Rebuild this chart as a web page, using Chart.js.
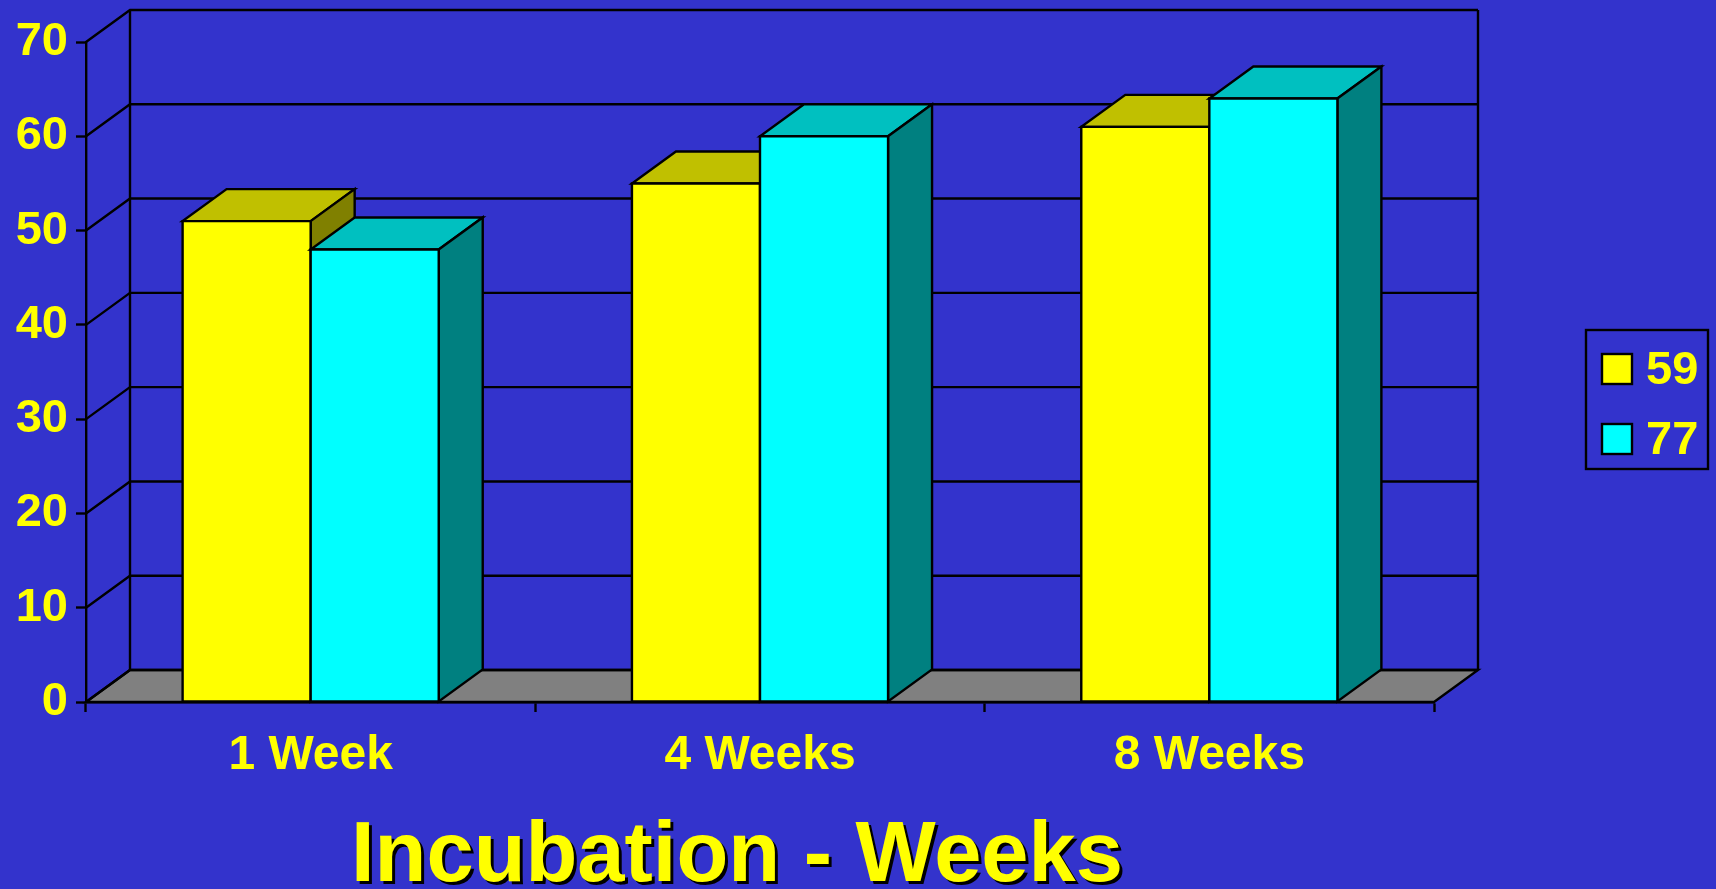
<!DOCTYPE html>
<html>
<head>
<meta charset="utf-8">
<title>Incubation - Weeks</title>
<script src="https://cdn.jsdelivr.net/npm/chart.js"></script>
<style>
    html, body { margin: 0; padding: 0; background: #3333cc; overflow: hidden; }
    #grafico { display: block; background: #3333cc; }
</style>
</head>
<body>
<canvas id="grafico" width="1716" height="889"></canvas>
<script>
// datos
var semanas = ['1 Week', '4 Weeks', '8 Weeks'];
var serie59 = [51, 55, 61];
var serie77 = [48, 60, 64];
var nombresSerie = ['59', '77'];
var ejeY = { min: 0, max: 70, paso: 10 };
var tituloEje = 'Incubation - Weeks';

// colores: frente, tapa, lado
var colores = [
    { frente: '#ffff00', tapa: '#c0c000', lado: '#808000' },
    { frente: '#00ffff', tapa: '#00c0c0', lado: '#008080' }
];
var AMARILLO = '#ffff00';
var PROF_X = 44, PROF_Y = 32;
var GROSOR = 2.4;

function poligono(ctx, pts, relleno) {
    ctx.beginPath();
    ctx.moveTo(pts[0][0], pts[0][1]);
    for (var i = 1; i < pts.length; i++) {
        ctx.lineTo(pts[i][0], pts[i][1]);
    }
    ctx.closePath();
    ctx.fillStyle = relleno;
    ctx.fill();
    ctx.stroke();
}

function dibujarBarra(ctx, p, c) {
    var izq = p.x - p.width / 2, der = p.x + p.width / 2;
    var arriba = p.y, abajo = p.base;
    // tapa
    poligono(ctx, [[izq, arriba], [der, arriba], [der + PROF_X, arriba - PROF_Y], [izq + PROF_X, arriba - PROF_Y]], c.tapa);
    // lado derecho
    poligono(ctx, [[der, arriba], [der + PROF_X, arriba - PROF_Y], [der + PROF_X, abajo - PROF_Y], [der, abajo]], c.lado);
    // frente
    poligono(ctx, [[izq, arriba], [der, arriba], [der, abajo], [izq, abajo]], c.frente);
}

var efecto3d = {
    id: 'efecto3d',
    beforeDraw: function (chart) {
        var ctx = chart.ctx, a = chart.chartArea, y = chart.scales.y;
        ctx.save();
        ctx.lineWidth = GROSOR;
        ctx.strokeStyle = '#000';
        // piso gris
        poligono(ctx, [[a.left, a.bottom], [a.right, a.bottom], [a.right + PROF_X, a.bottom - PROF_Y], [a.left + PROF_X, a.bottom - PROF_Y]], '#808080');
        // lineas de la pared del fondo y diagonales de la pared izquierda
        y.ticks.forEach(function (t) {
            var py = y.getPixelForValue(t.value);
            ctx.beginPath();
            ctx.moveTo(a.left, py);
            ctx.lineTo(a.left + PROF_X, py - PROF_Y);
            ctx.lineTo(a.right + PROF_X, py - PROF_Y);
            ctx.stroke();
        });
        ctx.beginPath();
        ctx.moveTo(a.left + PROF_X, a.top - PROF_Y);
        ctx.lineTo(a.left + PROF_X, a.bottom - PROF_Y);
        ctx.moveTo(a.right + PROF_X, a.top - PROF_Y);
        ctx.lineTo(a.right + PROF_X, a.bottom - PROF_Y);
        ctx.stroke();
        ctx.restore();
    },
    beforeDatasetsDraw: function (chart) {
        var ctx = chart.ctx;
        ctx.save();
        ctx.lineWidth = GROSOR;
        ctx.strokeStyle = '#000';
        // cada grupo de izquierda a derecha, amarillo y luego celeste
        for (var i = 0; i < chart.data.labels.length; i++) {
            chart.data.datasets.forEach(function (ds, d) {
                var bar = chart.getDatasetMeta(d).data[i];
                var p = bar.getProps(['x', 'y', 'base', 'width'], true);
                dibujarBarra(ctx, p, colores[d]);
            });
        }
        ctx.restore();
        return false;
    },
    afterDraw: function (chart) {
        var ctx = chart.ctx;
        ctx.save();
        // leyenda con marco
        ctx.lineWidth = GROSOR;
        ctx.strokeStyle = '#000';
        ctx.strokeRect(1586, 330, 122, 139);
        ctx.font = 'bold 47px "Liberation Sans", Arial, sans-serif';
        ctx.textBaseline = 'middle';
        ctx.textAlign = 'left';
        chart.data.datasets.forEach(function (ds, d) {
            var yy = 354 + d * 70;
            ctx.fillStyle = ds.backgroundColor;
            ctx.fillRect(1602, yy, 30, 30);
            ctx.strokeRect(1602, yy, 30, 30);
            ctx.fillStyle = AMARILLO;
            ctx.fillText(ds.label, 1646, yy + 17);
        });
        // titulo del eje con sombra
        ctx.font = 'bold 86px "Liberation Sans", Arial, sans-serif';
        ctx.textAlign = 'center';
        ctx.textBaseline = 'alphabetic';
        ctx.shadowColor = '#000';
        ctx.shadowOffsetX = 3;
        ctx.shadowOffsetY = 3;
        ctx.shadowBlur = 0;
        ctx.fillStyle = AMARILLO;
        ctx.fillText(tituloEje, 737, 881, 772);
        ctx.restore();
    }
};

Chart.defaults.font.family = '"Liberation Sans", Arial, sans-serif';

var grafico = new Chart(document.getElementById('grafico').getContext('2d'), {
    type: 'bar',
    data: {
        labels: semanas,
        datasets: [
            { label: nombresSerie[0], data: serie59, backgroundColor: colores[0].frente, borderColor: '#000', borderWidth: 2 },
            { label: nombresSerie[1], data: serie77, backgroundColor: colores[1].frente, borderColor: '#000', borderWidth: 2 }
        ]
    },
    options: {
        responsive: false,
        animation: false,
        devicePixelRatio: 1,
        categoryPercentage: 0.57,
        barPercentage: 1,
        layout: { padding: { left: 0, top: 42, right: 282, bottom: 107 } },
        plugins: {
            legend: { display: false },
            title: { display: false },
            tooltip: { enabled: false }
        },
        scales: {
            x: {
                grid: { drawOnChartArea: false, tickLength: 10, tickColor: '#000', tickWidth: GROSOR },
                border: { color: '#000', width: GROSOR },
                ticks: { color: AMARILLO, font: { size: 48, weight: 'bold' }, padding: 15, maxRotation: 0 },
                afterFit: function (scale) { scale.height = 80; }
            },
            y: {
                min: ejeY.min,
                max: ejeY.max,
                grid: { drawOnChartArea: false, tickLength: 10, tickColor: '#000', tickWidth: GROSOR },
                border: { color: '#000', width: GROSOR },
                ticks: { stepSize: ejeY.paso, color: AMARILLO, font: { size: 47, weight: 'bold' }, padding: 8 },
                afterFit: function (scale) { scale.width = 86; }
            }
        }
    },
    plugins: [efecto3d]
});
</script>
</body>
</html>
